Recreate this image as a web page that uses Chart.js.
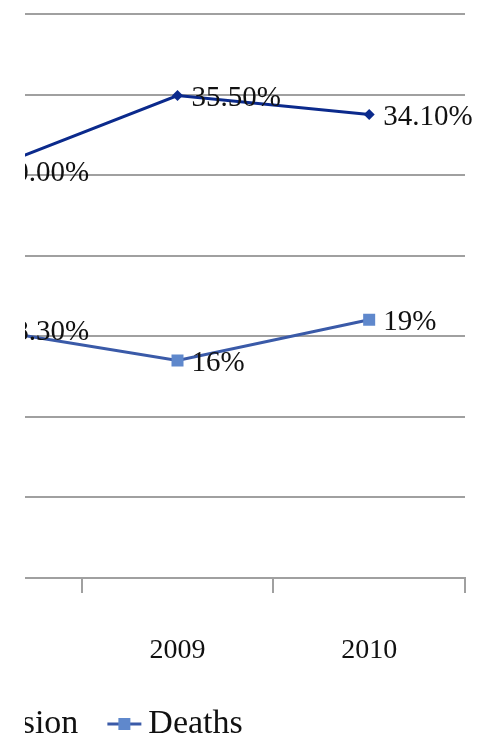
<!DOCTYPE html>
<html>
<head>
<meta charset="UTF-8">
<title>Admission and Deaths</title>
<script src="https://cdn.jsdelivr.net/npm/chart.js"></script>
<style>
  html, body { margin: 0; padding: 0; background: #fff; }
  /* the chart is wider than the frame; the y axis sits out of view on the left */
  #frame { position: absolute; left: 25px; top: 0; width: 476px; height: 751px; overflow: hidden; }
  #trendChart { position: absolute; left: -225px; top: 0; filter: blur(0.5px); }
</style>
</head>
<body>
<div id="frame"><canvas id="trendChart" width="700" height="751"></canvas></div>
<script>
const years = ['2008', '2009', '2010'];
const admission = [30.0, 35.5, 34.1];
const deaths = [18.3, 16, 19];
const admissionLabels = ['30.00%', '35.50%', '34.10%'];
const deathLabels = ['18.30%', '16%', '19%'];
const yMin = 0;
const yMax = 41.5;
const yTickCount = 8;

const FONT = '"Liberation Serif", "Times New Roman", serif';
const GRID = '#a0a0a0';
const NAVY = '#0b2a8c';
const BLUE_LINE = '#3a5aa8';
const BLUE_MARK = '#5f88cc';

// small line + marker images for the legend entries
function legendIcon(lineColor, markColor, shape) {
    const c = document.createElement('canvas');
    c.width = 80;
    c.height = 20;
    const g = c.getContext('2d');
    g.strokeStyle = lineColor;
    g.lineWidth = 3;
    g.beginPath();
    g.moveTo(36, 10);
    g.lineTo(70, 10);
    g.stroke();
    g.fillStyle = markColor;
    if (shape === 'diamond') {
        g.beginPath();
        g.moveTo(53, 4); g.lineTo(59, 10); g.lineTo(53, 16); g.lineTo(47, 10);
        g.closePath();
        g.fill();
    } else {
        g.fillRect(47, 4, 12, 12);
    }
    return c;
}
const icons = [legendIcon(NAVY, NAVY, 'diamond'), legendIcon(BLUE_LINE, BLUE_MARK, 'square')];

// value text to the right of every point
const valueLabels = {
    id: 'valueLabels',
    afterDatasetsDraw(chart) {
        const ctx = chart.ctx;
        ctx.save();
        ctx.font = '29px ' + FONT;
        ctx.fillStyle = '#111';
        ctx.textAlign = 'left';
        ctx.textBaseline = 'middle';
        chart.data.datasets.forEach((ds, i) => {
            chart.getDatasetMeta(i).data.forEach((pt, j) => {
                ctx.fillText(ds.pointLabels[j], pt.x + 14, pt.y + 3);
            });
        });
        ctx.restore();
    }
};

new Chart(document.getElementById('trendChart'), {
    type: 'line',
    data: {
        labels: years,
        datasets: [{
            label: 'Admission',
            data: admission,
            pointLabels: admissionLabels,
            borderColor: NAVY,
            backgroundColor: NAVY,
            borderWidth: 3,
            pointStyle: 'rectRot',
            pointRadius: 5.5,
            pointBorderWidth: 0,
            tension: 0
        }, {
            label: 'Deaths',
            data: deaths,
            pointLabels: deathLabels,
            borderColor: BLUE_LINE,
            backgroundColor: BLUE_MARK,
            borderWidth: 3,
            pointStyle: 'rect',
            pointRadius: 8.5,
            pointBorderWidth: 0,
            tension: 0
        }]
    },
    options: {
        responsive: false,
        animation: false,
        layout: { padding: { left: 61, right: 35, top: 14, bottom: 0 } },
        scales: {
            x: {
                offset: true,
                grid: { offset: true, drawOnChartArea: false, drawTicks: true, tickLength: 15, color: GRID, lineWidth: 2 },
                border: { color: GRID, width: 2 },
                ticks: { font: { family: FONT, size: 28 }, color: '#111', padding: 41, maxRotation: 0 },
                afterFit(scale) { scale.height = 116; }
            },
            y: {
                min: yMin,
                max: yMax,
                ticks: { display: false, count: yTickCount },
                grid: { color: GRID, lineWidth: 2, drawTicks: false },
                border: { display: false },
                afterFit(scale) { scale.width = 29; }
            }
        },
        plugins: {
            tooltip: { enabled: false },
            legend: {
                position: 'bottom',
                align: 'start',
                labels: {
                    usePointStyle: true,
                    pointStyleWidth: 40,
                    padding: 13,
                    color: '#111',
                    font: { family: FONT, size: 34 },
                    generateLabels(chart) {
                        const items = Chart.defaults.plugins.legend.labels.generateLabels(chart);
                        items.forEach((it, i) => { it.pointStyle = icons[i]; });
                        return items;
                    }
                }
            }
        }
    },
    plugins: [valueLabels]
});
</script>
</body>
</html>
